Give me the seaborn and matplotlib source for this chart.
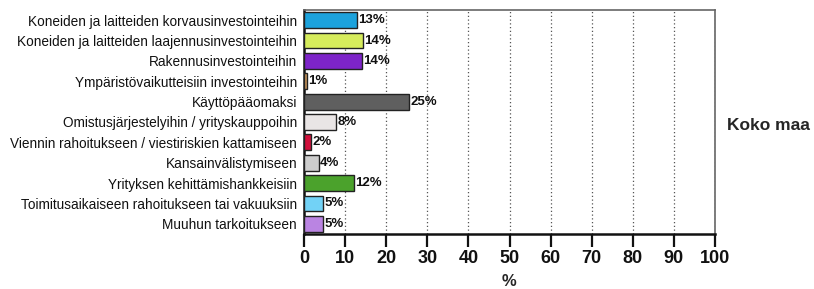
import matplotlib
matplotlib.use("Agg")
import matplotlib.pyplot as plt
import seaborn as sns
import pandas as pd

categories = [
    "Koneiden ja laitteiden korvausinvestointeihin",
    "Koneiden ja laitteiden laajennusinvestointeihin",
    "Rakennusinvestointeihin",
    "Ympäristövaikutteisiin investointeihin",
    "Käyttöpääomaksi",
    "Omistusjärjestelyihin / yrityskauppoihin",
    "Viennin rahoitukseen / viestiriskien kattamiseen",
    "Kansainvälistymiseen",
    "Yrityksen kehittämishankkeisiin",
    "Toimitusaikaiseen rahoitukseen tai vakuuksiin",
    "Muuhun tarkoitukseen",
]
values = [12.8, 14.4, 14.0, 0.7, 25.5, 7.9, 1.7, 3.6, 12.2, 4.6, 4.6]
value_labels = ["13%", "14%", "14%", "1%", "25%", "8%", "2%", "4%", "12%", "5%", "5%"]
colors = ["#1ca2dc", "#d6ec5c", "#7d24c9", "#c8955a", "#5f5f5f", "#e9e5e5",
          "#d2103c", "#cdcdcd", "#4ba22c", "#72d2f6", "#ba84e2"]
xticks = list(range(0, 101, 10))

df = pd.DataFrame({"cat": categories, "val": values})

sns.set_theme(style="white")
plt.rcParams["font.family"] = ["Liberation Sans", "DejaVu Sans"]

fig = plt.figure(figsize=(8.14, 2.89), dpi=100)
ax = fig.add_axes([304 / 814, 1 - 234 / 289, (715 - 304) / 814, (234 - 10) / 289])

sns.barplot(data=df, x="val", y="cat", hue="cat", palette=colors, legend=False,
            width=0.78, edgecolor="#222222", linewidth=1.0, saturation=1, ax=ax, zorder=3)

for i, (v, lab) in enumerate(zip(values, value_labels)):
    ax.text(v + 0.3, i, lab, va="center", ha="left", fontsize=9.5, fontweight="bold", color="#111111", zorder=4)

ax.set_xlim(0, 100)
ax.set_xticks(xticks)
ax.set_xticklabels([str(t) for t in xticks], fontsize=13, fontweight="bold")
ax.set_xlabel("%", fontsize=12, fontweight="bold", labelpad=5)
ax.set_ylabel("")
ax.tick_params(axis="y", labelsize=9.8, length=0, pad=5, colors="#111111")
ax.tick_params(axis="x", bottom=True, length=9.5, width=1.6, direction="out", pad=2, colors="#111111")
ax.grid(axis="x", linestyle=(0, (1, 2)), color="#555555", linewidth=0.9, zorder=0)

for side in ["top", "right"]:
    ax.spines[side].set_color("#666666")
    ax.spines[side].set_linewidth(1.2)
for side in ["bottom", "left"]:
    ax.spines[side].set_color("#111111")
    ax.spines[side].set_linewidth(1.8)

fig.text(727 / 814, 1 - 125 / 289, "Koko maa", fontsize=12.5, fontweight="bold", va="center", ha="left")

fig.savefig("out.png", dpi=100)
